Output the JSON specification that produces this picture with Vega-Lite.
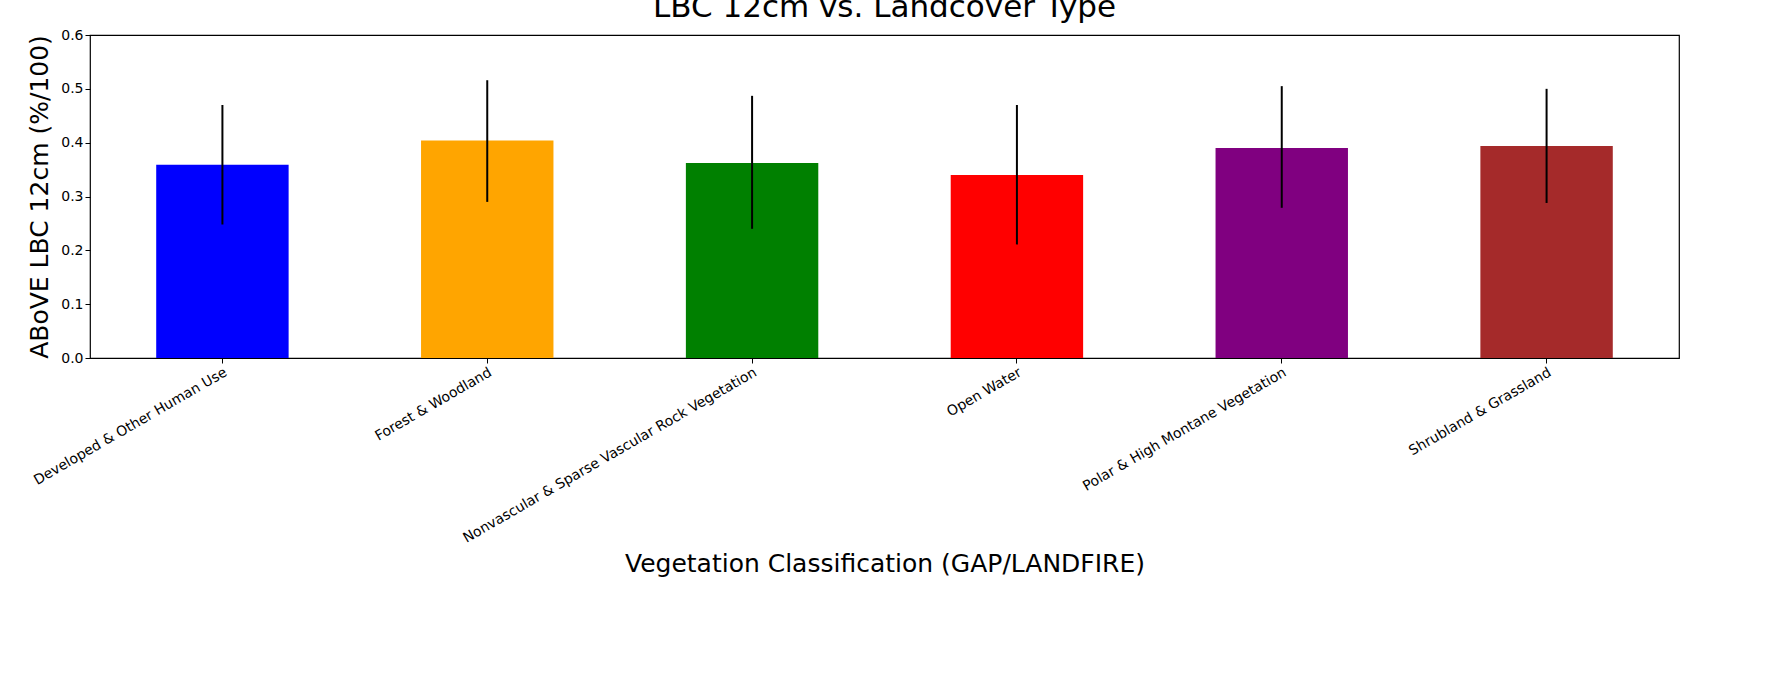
{
  "$schema": "https://vega.github.io/schema/vega-lite/v6.json",
  "autosize": "none",
  "padding": {"left": 90, "top": 35, "right": 93, "bottom": 333},
  "width": 1589,
  "height": 323,
  "title": {"text": "LBC 12cm vs. Landcover Type", "fontSize": 31, "font": "DejaVu Sans", "fontWeight": "normal", "color": "black", "offset": 4},
  "config": {
    "view": {"stroke": "black", "strokeWidth": 1.2},
    "font": "DejaVu Sans",
    "axis": {"labelFont": "DejaVu Sans", "titleFont": "DejaVu Sans", "labelColor": "black", "titleColor": "black", "tickColor": "black", "domain": false, "grid": false, "tickSize": 5, "labelFontSize": 14, "titleFontSize": 25, "titleFontWeight": "normal"}
  },
  "data": {
    "values": [
      {"type": "Developed & Other Human Use", "mean": 0.359, "lo": 0.248, "hi": 0.470, "color": "blue"},
      {"type": "Forest & Woodland", "mean": 0.404, "lo": 0.290, "hi": 0.516, "color": "orange"},
      {"type": "Nonvascular & Sparse Vascular Rock Vegetation", "mean": 0.362, "lo": 0.240, "hi": 0.487, "color": "green"},
      {"type": "Open Water", "mean": 0.340, "lo": 0.211, "hi": 0.470, "color": "red"},
      {"type": "Polar & High Montane Vegetation", "mean": 0.390, "lo": 0.279, "hi": 0.505, "color": "purple"},
      {"type": "Shrubland & Grassland", "mean": 0.394, "lo": 0.288, "hi": 0.500, "color": "brown"}
    ]
  },
  "encoding": {
    "x": {"field": "type", "type": "nominal", "sort": null,
      "scale": {"paddingInner": 0.5, "paddingOuter": 0.25},
      "axis": {"title": "Vegetation Classification (GAP/LANDFIRE)", "labelAngle": -30, "labelAlign": "right", "labelBaseline": "top", "labelLimit": 0, "titlePadding": 6}}
  },
  "layer": [
    {
      "mark": {"type": "bar"},
      "encoding": {
        "y": {"field": "mean", "type": "quantitative", "scale": {"domain": [0, 0.6], "nice": false},
          "axis": {"title": "ABoVE LBC 12cm (%/100)", "tickCount": 6, "format": ".1f", "titlePadding": 8}},
        "color": {"field": "color", "type": "nominal", "scale": null}
      }
    },
    {
      "mark": {"type": "rule", "color": "black", "strokeWidth": 2},
      "encoding": {
        "y": {"field": "lo", "type": "quantitative"},
        "y2": {"field": "hi"}
      }
    }
  ]
}
